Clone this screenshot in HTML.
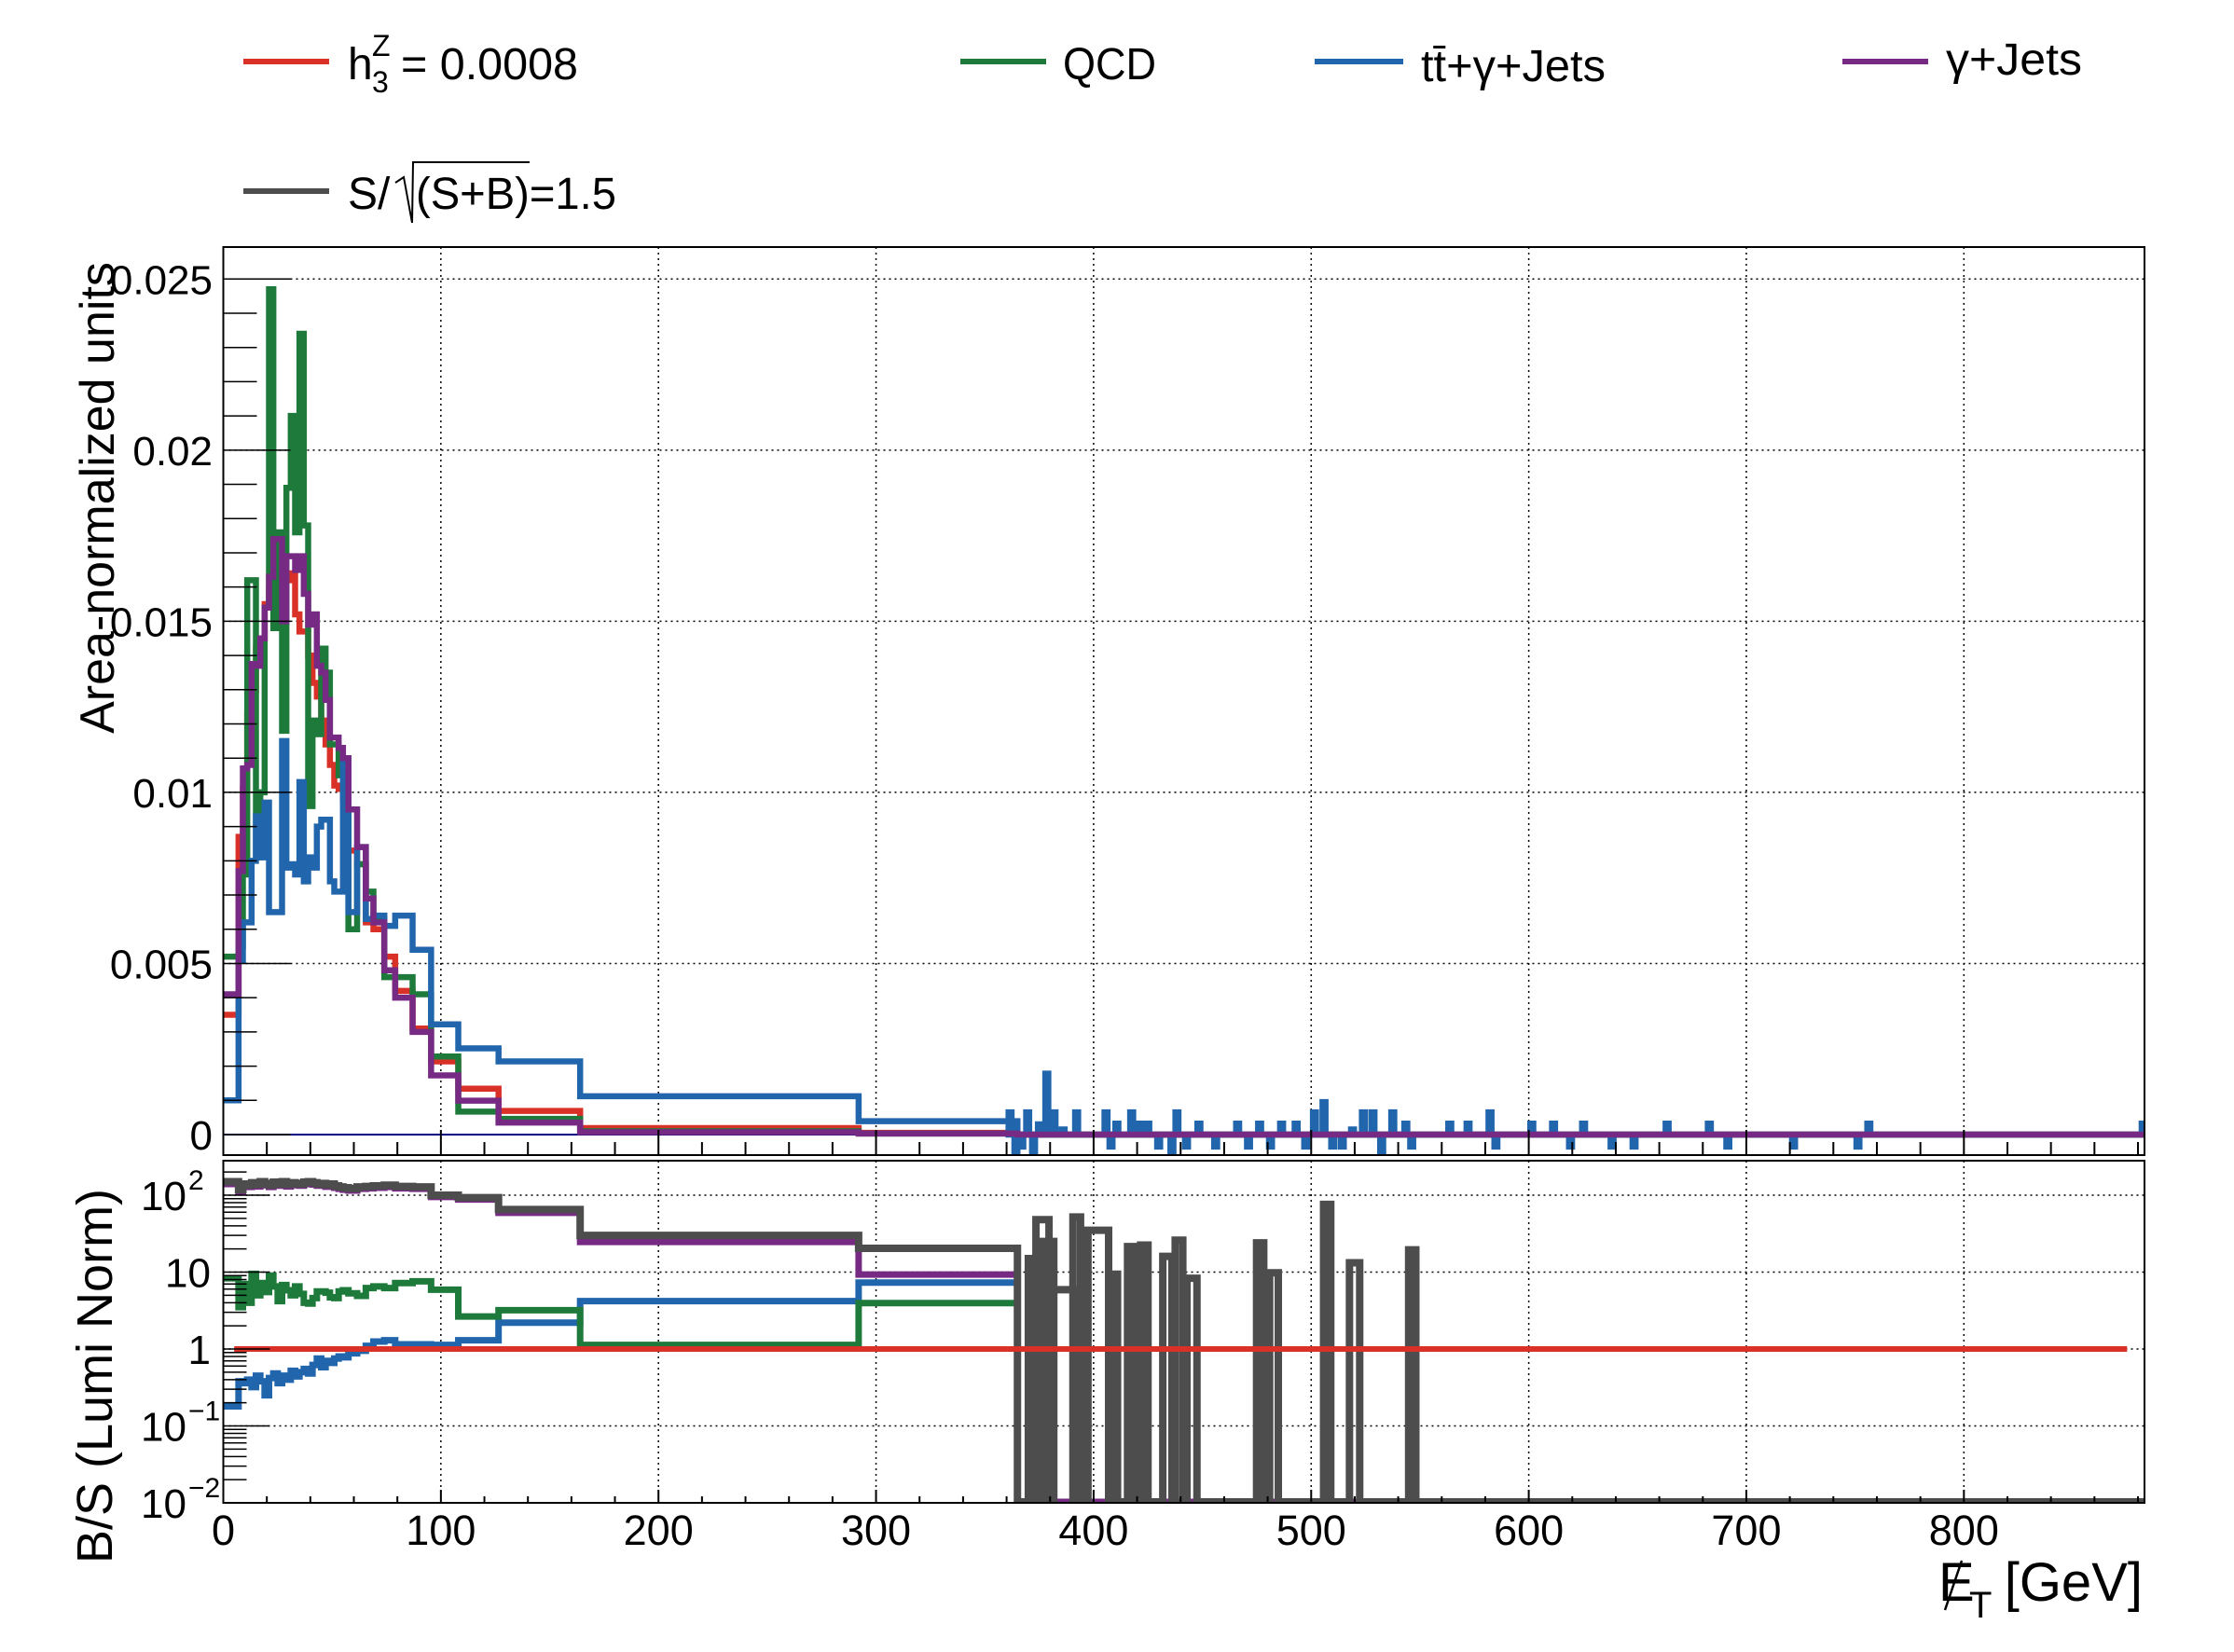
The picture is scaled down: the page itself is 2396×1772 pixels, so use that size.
<!DOCTYPE html>
<html><head><meta charset="utf-8"><style>
html,body{margin:0;padding:0;background:#fff;}
svg{display:block;font-family:"Liberation Sans",sans-serif;}
</style></head><body>
<svg id="chart" width="2396" height="1772" viewBox="0 0 2396 1772" xmlns="http://www.w3.org/2000/svg">
<defs>
<clipPath id="clipTop"><rect x="239.5" y="265" width="2060.5" height="974"/></clipPath>
<clipPath id="clipBot"><rect x="239.5" y="1245" width="2060.5" height="367"/></clipPath>
</defs>
<g id="legend">
 <g>
  <line x1="261" y1="66" x2="353" y2="66" stroke="#d93127" stroke-width="6"/>
  <text x="373" y="85" font-size="48">h</text>
  <text x="399" y="60" font-size="32">Z</text>
  <text x="399" y="99" font-size="32">3</text>
  <text x="430" y="85" font-size="48" textLength="190" lengthAdjust="spacingAndGlyphs">= 0.0008</text>
 </g>
 <g>
  <line x1="1030" y1="66" x2="1122" y2="66" stroke="#1e7a3a" stroke-width="6"/>
  <text x="1140" y="85" font-size="48" textLength="100" lengthAdjust="spacingAndGlyphs">QCD</text>
 </g>
 <g>
  <line x1="1410" y1="66" x2="1505" y2="66" stroke="#2166ac" stroke-width="6"/>
  <text x="1524" y="87" font-size="48" textLength="198" lengthAdjust="spacingAndGlyphs">tt̄+γ+Jets</text>
 </g>
 <g>
  <line x1="1976" y1="66" x2="2068" y2="66" stroke="#762a83" stroke-width="6"/>
  <text x="2087" y="80" font-size="48" textLength="146" lengthAdjust="spacingAndGlyphs">γ+Jets</text>
 </g>
 <g>
  <line x1="261" y1="205" x2="353" y2="205" stroke="#4d4d4d" stroke-width="6"/>
  <text x="373" y="224" font-size="48">S/</text>
  <path d="M424,196 L433,190 L442,239 L443,174 L568,174" fill="none" stroke="#000" stroke-width="2"/>
  <text x="446" y="224" font-size="48" textLength="215" lengthAdjust="spacingAndGlyphs">(S+B)=1.5</text>
 </g>
</g>
<g id="top-grid"></g>
<g id="bot-grid"></g>
<g id="top-series" clip-path="url(#clipTop)"></g>
<g id="bot-series" clip-path="url(#clipBot)"></g>
<g id="axes"></g>
<text transform="translate(122,534) rotate(-90)" text-anchor="middle" font-size="52">Area-normalized units</text>
<text transform="translate(120,1476) rotate(-90)" text-anchor="middle" font-size="54">B/S (Lumi Norm)</text>
<g>
 <text x="2079" y="1717" font-size="58">E</text>
 <line x1="2086" y1="1727" x2="2104" y2="1674" stroke="#000" stroke-width="2.5"/>
 <text x="2112" y="1735" font-size="40">T</text>
 <text x="2298" y="1717" font-size="58" text-anchor="end">[GeV]</text>
</g>
</svg>
<script>
// ---------- data ----------
const edges = [0,7,9,11,13,15,17,19,21,23,25,27,29,31,33,35,37,39,41,43,45,47,49,51,53,55,57.5,61.5,65.5,69,74,79,87,95.5,108,126.5,164,292,365];
const sigNorm = [3.5,8.7,10.1,12.3,13.0,14.2,14.5,15.5,15.9,15.7,16.0,15.5,16.2,16.4,15.2,14.7,14.7,14.0,13.2,12.8,12.1,11.4,10.8,10.2,10.1,9.8,8.3,7.9,6.2,6.0,5.2,4.2,3.1,2.14,1.34,0.69,0.19,0.05];
const qcdNorm = [5.2,5.5,7.6,16.2,16.2,8.1,10.0,15.4,24.7,14.8,17.6,11.8,18.9,21.0,17.6,23.4,17.8,9.6,12.1,11.7,14.2,13.5,11.4,11.4,10.5,10.7,6.0,7.9,7.1,6.3,4.6,4.6,4.1,2.28,0.67,0.46,0.10,0.03];
const ttgNorm = [1.0,5.1,6.2,6.2,8.0,9.3,8.1,9.7,6.5,6.5,6.5,11.5,7.8,7.9,7.6,10.3,7.4,8.1,7.8,9.0,9.2,9.2,7.4,7.1,7.1,11.0,6.5,8.4,6.3,6.4,6.1,6.4,5.4,3.22,2.52,2.14,1.12,0.39];
const gjNorm = [4.1,7.7,10.7,10.8,13.75,13.7,14.5,15.4,16.3,17.4,17.4,15.0,16.9,16.9,16.5,16.9,15.8,14.9,15.2,13.7,13.5,12.7,11.6,11.6,11.3,11.0,9.5,8.4,6.9,6.2,4.8,4.0,3.0,1.73,0.99,0.35,0.07,0.03];
const ttgTailX = [361.6,364.3,367,369.7,372.4,375.1,378.5,381.8,386,392.2,405.7,408,410.7,417.5,420.8,424.9,429.9,436,438.3,442.7,448.4,456.1,466.2,471.2,476.3,481.3,486.4,493.1,497.5,501.5,505.9,509.9,514.3,519,524,528.4,532.4,537.5,543.5,546.2,563.7,572.1,582.2,584.9,601.4,611.4,619.2,625.2,638.3,648.4,663.6,683,691.5,721.7,751.3,756.3,882.4];
const ttgTailV = [0.65,-0.64,-0.35,0.65,-0.64,0.3,1.78,0.65,0.15,0.65,0.65,-0.35,0.32,0.65,0.32,0.32,-0.35,-0.64,0.65,-0.35,0.32,-0.35,0.32,-0.35,0.32,-0.35,0.32,0.32,-0.35,0.65,0.95,-0.35,-0.35,0.15,0.65,0.65,-0.64,0.65,0.32,-0.35,0.32,0.32,0.65,-0.35,0.32,0.32,-0.35,0.32,-0.35,-0.35,0.32,0.32,-0.35,-0.35,-0.35,0.32,0.32];
const bsTotal = [150,118,140,135,145,138,150,142,135,148,140,150,138,145,142,140,148,150,145,140,142,136,140,132,128,125,122,128,130,132,135,130,128,100,93,65,30,20.4];
const bsGJ = [140,112,132,128,138,130,142,135,128,140,133,142,130,138,135,133,140,142,138,133,135,129,133,125,121,118,115,121,123,125,128,123,121,95,88,59,24.7,9.3];
const bsQCD = [8.3,3.5,7.0,4.0,9.5,5.0,7.2,5.5,9.0,6.5,4.2,6.8,5.8,5.0,6.5,5.2,4.0,3.9,4.6,5.6,5.6,5.4,4.7,4.6,5.6,5.8,5.3,4.9,6.2,6.5,6.2,7.2,7.6,5.9,2.65,3.2,1.13,3.95];
const bsTTG = [0.18,0.38,0.36,0.40,0.32,0.45,0.38,0.25,0.42,0.48,0.36,0.45,0.40,0.52,0.44,0.50,0.55,0.48,0.62,0.75,0.58,0.70,0.66,0.75,0.80,0.78,0.88,0.95,1.1,1.25,1.3,1.15,1.15,1.13,1.3,2.2,4.2,7.3];
const bsSignal = 1;
const tailLo = [370,373.5,376.7,381.7,390.5,397.4,408,415.6,421.6,431.8,437.5,442.9,474.9,480.9,505.7,517.6,544.8];
const tailHi = [373,379.5,381.7,391,394,406.9,411,419,425,436,441,447.5,478.2,484.9,509,522.3,548.1];
const tailVal = [15,48,25,5.9,52,35,9.4,21.5,22.5,16,26,8.3,24,9.8,76,13.2,19.5];
const xTicks = [0,100,200,300,400,500,600,700,800];
const yTicksTop = [0,0.005,0.01,0.015,0.02,0.025];
const yTickLabelsTop = ["0","0.005","0.01","0.015","0.02","0.025"];

// ---------- scales ----------
const X0=239.5, X1=2300, XMAX=883;
const xs = u => X0 + u*(X1-X0)/XMAX;
const TY0=1217, TPX=36708;
const ys = v => TY0 - v*TPX;
const BY1=1447, DEC=82.5;
const yb = v => Math.min(1620, Math.max(1238, BY1 - DEC*Math.log10(Math.max(v,1e-4))));
const FLOOR = 0.0103;
const NS="http://www.w3.org/2000/svg";
function mk(tag, attrs, parent){const e=document.createElementNS(NS,tag);for(const k in attrs)e.setAttribute(k,attrs[k]);parent.appendChild(e);return e;}

const topG=document.getElementById('top-series'), botG=document.getElementById('bot-series');
const axes=document.getElementById('axes'), tg=document.getElementById('top-grid'), bg=document.getElementById('bot-grid');

xTicks.forEach(t=>{ if(t===0) return;
  let l=mk('line',{x1:xs(t),x2:xs(t),y1:265,y2:1239,stroke:'#000','stroke-width':1.5,'stroke-dasharray':'2 4'},tg);
  
  
  let l2=mk('line',{x1:xs(t),x2:xs(t),y1:1245,y2:1612,stroke:'#000','stroke-width':1.5,'stroke-dasharray':'2 4'},bg);
  
  
});
yTicksTop.forEach(t=>{ if(t===0) return;
  let l=mk('line',{x1:X0,x2:X1,y1:ys(t),y2:ys(t),stroke:'#000','stroke-width':1.5,'stroke-dasharray':'2 4'},tg);
  
  
});
[0.1,1,10,100].forEach(t=>{
  let l=mk('line',{x1:X0,x2:X1,y1:yb(t),y2:yb(t),stroke:'#000','stroke-width':1.5,'stroke-dasharray':'2 4'},bg);
  
  
});

function stepPath(vals, yf, extendTo){
  let d='M'+xs(edges[0])+','+yf(vals[0]);
  for(let i=0;i<vals.length;i++){
    if(i>0) d+=' V'+yf(vals[i]);
    d+=' H'+xs(edges[i+1]);
  }
  if(extendTo!==undefined){ d+=' V'+yf(extendTo[0])+' H'+xs(extendTo[1]); }
  return d;
}
const sc = a => a.map(v=>v/1000);
let zl=mk('line',{x1:X0,x2:X1,y1:ys(0),y2:ys(0),stroke:'#000080','stroke-width':2},topG);


const topSeries=[['signal-hist',sigNorm,'#d93127'],['qcd-hist',qcdNorm,'#1e7a3a'],['ttgamma-hist',ttgNorm,'#2166ac'],['gammajets-hist',gjNorm,'#762a83']];
topSeries.forEach(s=>{
  let d=stepPath(sc(s[1]),ys,[0,XMAX]);
  if(s[0]==='ttgamma-hist'){
    d=stepPath(sc(s[1]),ys);
    d+=' V'+ys(0);
    for(let i=0;i<ttgTailX.length;i++){
      d+=' H'+xs(ttgTailX[i]-0.7)+' V'+ys(ttgTailV[i]/1000)+' H'+xs(ttgTailX[i]+0.7)+' V'+ys(0);
    }
    d+=' H'+xs(XMAX);
  }
  const p=mk('path',{d:d,fill:'none',stroke:s[2],'stroke-width':6.5},topG);
  
  
});

const botSeries=[['ttgamma-ratio',bsTTG,'#2166ac'],['qcd-ratio',bsQCD,'#1e7a3a'],['gammajets-ratio',bsGJ,'#762a83']];
botSeries.forEach(s=>{
  const d=stepPath(s[1],yb,[FLOOR,XMAX]);
  const p=mk('path',{d:d,fill:'none',stroke:s[2],'stroke-width':7},botG);
  
  
});
{
  let d=stepPath(bsTotal,yb)+' V'+yb(FLOOR);
  for(let i=0;i<tailLo.length;i++){
    d+=' H'+xs(tailLo[i])+' V'+yb(tailVal[i])+' H'+xs(tailHi[i])+' V'+yb(FLOOR);
  }
  d+=' H'+xs(XMAX);
  const p=mk('path',{d:d,fill:'none',stroke:'#4d4d4d','stroke-width':8},botG);
  
  
  const r=mk('line',{x1:xs(5),x2:xs(875),y1:yb(bsSignal),y2:yb(bsSignal),stroke:'#d93127','stroke-width':6},botG);
  
  
}

let f1=mk('rect',{x:X0,y:265,width:X1-X0,height:974,fill:'none',stroke:'#000','stroke-width':2},axes);


let f2=mk('rect',{x:X0,y:1245,width:X1-X0,height:367,fill:'none',stroke:'#000','stroke-width':2},axes);



for(let u=0;u<=XMAX;u+=20){
  const maj=(u%100===0);
  mk('line',{x1:xs(u),x2:xs(u),y1:1239,y2:1239-(maj?27:14),stroke:'#000','stroke-width':2},axes);
  mk('line',{x1:xs(u),x2:xs(u),y1:1612,y2:1612-(maj?14:7),stroke:'#000','stroke-width':2},axes);
}
xTicks.forEach(t=>{
  const tx=mk('text',{x:xs(t),y:1657,'font-size':45,'text-anchor':'middle'},axes);
  tx.textContent=String(t);
  
  
});
for(let k=0;k<=25;k++){
  const v=k/1000, maj=(k%5===0);
  mk('line',{x1:X0,x2:X0+(maj?72:36),y1:ys(v),y2:ys(v),stroke:'#000','stroke-width':1.5},axes);
}
yTicksTop.forEach((t,i)=>{
  const tx=mk('text',{x:228,y:ys(t)+16,'font-size':44,'text-anchor':'end'},axes);
  tx.textContent=yTickLabelsTop[i];
  
  
});
for(let e=-2;e<=2;e++){
  for(let m=1;m<=9;m++){
    const v=m*Math.pow(10,e); const y=yb(v);
    if(y<1245||y>1612) continue;
    mk('line',{x1:X0,x2:X0+(m===1?50:25),y1:y,y2:y,stroke:'#000','stroke-width':1.5},axes);
  }
}
const rl=[[100,'10','2'],[10,'10',''],[1,'1',''],[0.1,'10','−1'],[0.01,'10','−2']];
rl.forEach(r=>{
  const tx=mk('text',{x:r[2]?200:226,y:yb(r[0])+16,'font-size':44,'text-anchor':'end'},axes);
  tx.textContent=r[1];
  
  
  if(r[2]){
    const sp=mk('text',{x:202,y:yb(r[0])-6,'font-size':30,'text-anchor':'start'},axes);
    sp.textContent=r[2];
    
    
  }
});
</script>
</body></html>
